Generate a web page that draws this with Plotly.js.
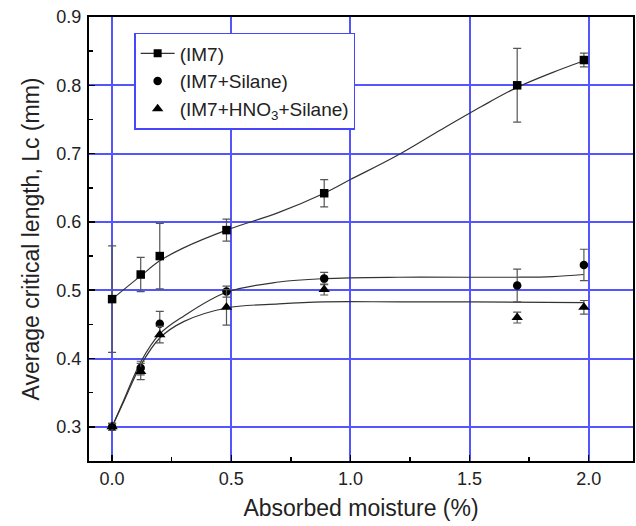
<!DOCTYPE html>
<html>
<head>
<meta charset="utf-8">
<script src="https://cdn.plot.ly/plotly-3.0.1.min.js"></script>
<style>html,body{margin:0;padding:0;background:#fff;}#chart{width:636px;height:526px;}</style>
</head>
<body>
<div id="chart"></div>
<script>
// Measured data points
const moisture = [0, 0.12, 0.2, 0.48, 0.89, 1.7, 1.98];
const im7 = [0.487, 0.523, 0.550, 0.588, 0.642, 0.800, 0.837];
const im7Err = [0.078, 0.025, 0.048, 0.016, 0.020, 0.054, 0.010];
const silane = [0.300, 0.386, 0.451, 0.498, 0.517, 0.507, 0.537];
const silaneErr = [0.005, 0.010, 0.018, 0.008, 0.009, 0.024, 0.023];
const hno3 = [0.300, 0.381, 0.435, 0.475, 0.501, 0.460, 0.475];
const hno3Err = [0.005, 0.012, 0.012, 0.026, 0.008, 0.008, 0.010];

// Fitted curves
const fitIm7X = [0, 0.12, 0.2, 0.3, 0.48, 0.7, 0.89, 1.0, 1.2, 1.38, 1.55, 1.7, 1.85, 1.98];
const fitIm7Y = [0.487, 0.521, 0.543, 0.562, 0.588, 0.614, 0.642, 0.662, 0.698, 0.735, 0.769, 0.797, 0.819, 0.836];
const fitSilX = [0, 0.05, 0.12, 0.2, 0.3, 0.48, 0.7, 0.89, 1.2, 1.5, 1.7, 1.85, 1.98];
const fitSilY = [0.300, 0.340, 0.395, 0.436, 0.462, 0.497, 0.512, 0.517, 0.519, 0.519, 0.519, 0.520, 0.523];
const fitHnoX = [0, 0.05, 0.12, 0.2, 0.3, 0.48, 0.7, 0.89, 1.2, 1.5, 1.98];
const fitHnoY = [0.300, 0.338, 0.390, 0.430, 0.454, 0.474, 0.480, 0.483, 0.483, 0.483, 0.482];

const names = ['(IM7)', '(IM7+Silane)', '(IM7+HNO<sub>3</sub>+Silane)'];
const xTitle = 'Absorbed moisture (%)';
const yTitle = 'Average critical length, Lc (mm)';

const fitLine = {color: '#333', width: 1.2, shape: 'spline'};
const errStyle = (arr) => ({type: 'data', array: arr, visible: true, color: '#555', thickness: 1.2, width: 4});

const traces = [
  {x: fitIm7X, y: fitIm7Y, mode: 'lines', line: fitLine, showlegend: false, hoverinfo: 'skip'},
  {x: fitSilX, y: fitSilY, mode: 'lines', line: fitLine, showlegend: false, hoverinfo: 'skip'},
  {x: fitHnoX, y: fitHnoY, mode: 'lines', line: fitLine, showlegend: false, hoverinfo: 'skip'},
  // legend-only entry for IM7 (line + marker symbol)
  {x: [null], y: [null], mode: 'lines+markers', name: names[0],
   line: {color: '#333', width: 1.2}, marker: {symbol: 'square', size: 8, color: '#000'}},
  {x: moisture, y: im7, mode: 'markers', name: names[0], showlegend: false,
   marker: {symbol: 'square', size: 8.5, color: '#000'}, error_y: errStyle(im7Err)},
  {x: moisture, y: silane, mode: 'markers', name: names[1],
   marker: {symbol: 'circle', size: 8.5, color: '#000'}, error_y: errStyle(silaneErr)},
  {x: moisture, y: hno3, mode: 'markers', name: names[2],
   marker: {symbol: 'triangle-up', size: 10, color: '#000'}, error_y: errStyle(hno3Err)}
];

const gridColor = 'rgb(85,85,255)';
const layout = {
  width: 636, height: 526,
  margin: {l: 89, r: 3, t: 17, b: 65},
  paper_bgcolor: '#fff', plot_bgcolor: '#fff',
  font: {family: 'Liberation Sans, Arial, sans-serif', color: '#222'},
  showlegend: true,
  legend: {x: 0.083, y: 0.964, xanchor: 'left', yanchor: 'top',
    bordercolor: 'rgb(70,70,255)', borderwidth: 1.5, bgcolor: '#fff',
    font: {size: 19, color: '#222'}, tracegroupgap: 0, itemwidth: 34},
  xaxis: {
    range: [-0.097, 2.186], tickvals: [0, 0.5, 1.0, 1.5, 2.0], ticktext: ['0.0', '0.5', '1.0', '1.5', '2.0'],
    ticks: 'inside', ticklen: 6, tickwidth: 1.5, tickcolor: '#000',
    minor: {dtick: 0.25, tick0: 0, ticks: 'inside', ticklen: 4, tickwidth: 1.5, tickcolor: '#000', showgrid: false},
    showgrid: true, gridcolor: gridColor, gridwidth: 2,
    showline: true, linecolor: '#000', linewidth: 2, mirror: true, zeroline: false,
    tickfont: {size: 18, color: '#222'},
    title: {text: xTitle, font: {size: 23, color: '#222'}, standoff: 12}
  },
  yaxis: {
    range: [0.25, 0.9], tickvals: [0.3, 0.4, 0.5, 0.6, 0.7, 0.8, 0.9],
    ticks: 'inside', ticklen: 6, tickwidth: 1.5, tickcolor: '#000',
    minor: {dtick: 0.05, tick0: 0.25, ticks: 'inside', ticklen: 4, tickwidth: 1.5, tickcolor: '#000', showgrid: false},
    showgrid: true, gridcolor: gridColor, gridwidth: 2,
    showline: true, linecolor: '#000', linewidth: 2, mirror: true, zeroline: false,
    tickfont: {size: 18, color: '#222'}, ticklabelstandoff: 2,
    title: {text: yTitle, font: {size: 23, color: '#222'}, standoff: 10}
  }
};

Plotly.newPlot('chart', traces, layout, {displayModeBar: false, staticPlot: true});
</script>
</body>
</html>
